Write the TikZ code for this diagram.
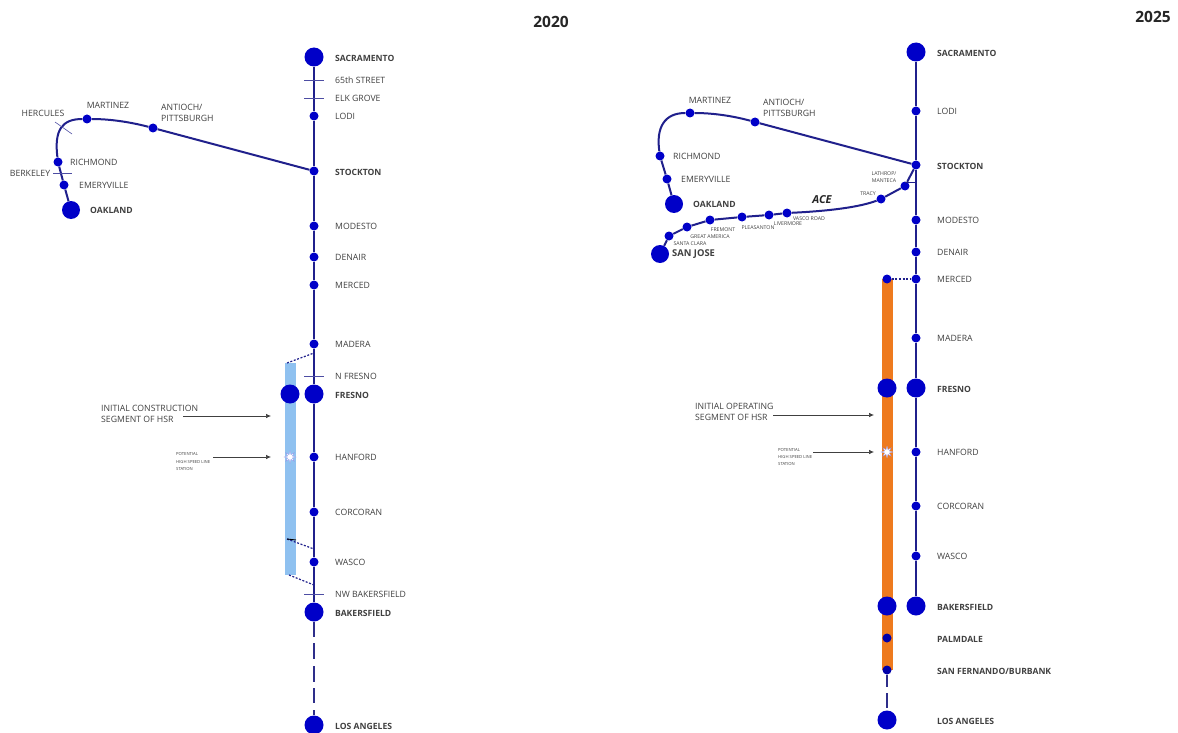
\documentclass[tikz,border=0pt]{standalone}
\usepackage{fontspec}
\setmainfont{Open Sans}
\usetikzlibrary{arrows.meta,shapes.geometric,backgrounds}
\definecolor{st}{HTML}{0000C8}
\definecolor{ln}{HTML}{20208C}
\definecolor{tx}{HTML}{404040}
\definecolor{hsrblue}{HTML}{8FC1F0}
\definecolor{hsror}{HTML}{EE7A1E}
\tikzset{
 bigst/.style={circle,fill=st,inner sep=0pt,minimum size=19pt},
 smallst/.style={circle,fill=st,inner sep=0pt,minimum size=9pt},
 lab/.style={anchor=west,inner sep=0pt,text=tx,font=\fontsize{8.7}{10.5}\selectfont,align=left},
 blab/.style={lab,font=\fontsize{8.6}{10}\selectfont\bfseries,yshift=-1pt},
 slab/.style={lab,anchor=center,font=\fontsize{5.2}{7.5}\selectfont},
 note/.style={lab,font=\fontsize{4.2}{7.2}\selectfont},
 rail/.style={draw=ln,line width=2pt},
 dashline/.style={draw=ln!85!gray,line width=2pt},
 tickline/.style={draw=ln!80!white,line width=.6pt},
 dots/.style={draw=ln,line width=1.2pt,dash pattern=on 2pt off 1.6pt},
 ptr/.style={draw=tx,line width=.7pt,-{Latex[length=5pt,width=4.5pt]}},
 yr/.style={inner sep=0pt,font=\fontsize{15.5}{17}\selectfont\bfseries,text=black!85},
 hsrstar/.style={star,star points=8,star point ratio=2.4,fill=white,draw=st!45!white,line width=.25pt,inner sep=0pt,minimum size=12pt}
}
\begin{document}
\begin{tikzpicture}[x=1pt,y=-1pt]
\useasboundingbox (0,0) rectangle (1178,733);
\fill[white] (0,0) rectangle (1178,733);
% ---------- 2020 ----------
\node[yr] (y20) at (551,21.5) {2020};
\fill[hsrblue] (285,363) rectangle (296,575);
\coordinate (bandA) at (287,363);
\coordinate (bandB) at (287,539);
\coordinate (bandBe) at (296,540);
\coordinate (bandC) at (289,575);
\coordinate (mA) at (314,353);
\coordinate (mB) at (314,549);
\coordinate (mC) at (314,585);
\foreach \n/\y in {lod/116,sto/171,mod/226,den/257,mer/285,mad/344,han/457,cor/512,was/562}
  \node[smallst] (\n) at (314,\y) {};
\node[bigst] (sac) at (314,57) {};
\node[bigst] (fre) at (314,394) {};
\node[bigst] (bak) at (314,612) {};
\node[bigst] (la) at (314,725) {};
\node[bigst] (hfre) at (290,394) {};
\node[hsrstar] (hst) at (290,457) {};
\node[bigst,minimum size=18pt] (oak) at (71,210) {};
\node[smallst] (eme) at (64,185) {};
\node[smallst] (ric) at (58,162) {};
\node[smallst] (mar) at (87,119) {};
\node[smallst] (ant) at (153,128) {};
\draw[rail] (sac) -- (lod) -- (sto) -- (mod) -- (den) -- (mer) -- (mad) -- (fre) -- (han) -- (cor) -- (was) -- (bak);
\draw[rail] (oak) -- (eme) -- (ric) .. controls (54,130) and (62,119) .. (mar) .. controls (110,119) and (130,122) .. (ant) -- (sto);
\coordinate (d1) at (314,637); \coordinate (d2) at (314,643); \coordinate (d3) at (314,659);
\coordinate (d4) at (314,666); \coordinate (d5) at (314,682); \coordinate (d6) at (314,688);
\coordinate (d7) at (314,703); \coordinate (d8) at (314,710);
\draw[dashline] (bak) -- (d1); \draw[dashline] (d2) -- (d3); \draw[dashline] (d4) -- (d5);
\draw[dashline] (d6) -- (d7); \draw[dashline] (d8) -- (la);
\draw[dots] (bandA) -- (mA);
\draw[dots] (bandB) -- (mB);
\draw[dots] (bandC) -- (mC);
\draw[draw=black,line width=.9pt] (bandB) -- (bandBe);
\foreach \a/\y in {t65/80,tel/98,tnf/376,tnw/594}{
  \coordinate (\a L) at (304,\y); \coordinate (\a R) at (324,\y);
  \draw[tickline] (\a L) -- (\a R);
}
\coordinate (hL) at (55,122); \coordinate (hR) at (72,134); \draw[tickline] (hL) -- (hR);
\coordinate (bL) at (53,173); \coordinate (bR) at (72,173); \draw[tickline] (bL) -- (bR);
\foreach \n/\y/\t in {a/80/65th STREET,b/98/ELK GROVE,c/116/LODI,e/226/MODESTO,f/257/DENAIR,g/285/MERCED,h/344/MADERA,i/376/N FRESNO,k/457/HANFORD,l/512/CORCORAN,m/562/WASCO,n/594/NW BAKERSFIELD}
  \node[lab] (l\n) at (335,\y) {\t};
\foreach \n/\y/\t in {a/57/SACRAMENTO,b/171/STOCKTON,c/394/FRESNO,d/612/BAKERSFIELD,e/725/LOS ANGELES}
  \node[blab] (bl\n) at (335,\y) {\t};
\node[lab,anchor=center] (lmar) at (108,105) {MARTINEZ};
\node[lab] (lant) at (161,113) {ANTIOCH/\\PITTSBURGH};
\node[lab,anchor=center] (lher) at (43,113) {HERCULES};
\node[lab] (lric) at (70,162) {RICHMOND};
\node[lab,anchor=center] (lber) at (30,173) {BERKELEY};
\node[lab] (leme) at (79,185) {EMERYVILLE};
\node[blab] (loak) at (90,209) {OAKLAND};
\node[lab] (ln1) at (101,414) {INITIAL CONSTRUCTION\\SEGMENT OF HSR};
\node[note] (ln2) at (176,461.5) {POTENTIAL\\HIGH SPEED LINE\\STATION};
\coordinate (p1a) at (183,416); \coordinate (p1b) at (271,416);
\coordinate (p2a) at (213,457); \coordinate (p2b) at (271,457);
\draw[ptr] (p1a) -- (p1b);
\draw[ptr] (p2a) -- (p2b);
% ---------- 2025 ----------
\node[yr] (y25) at (1153,17) {2025};
\fill[hsror] (882,279) rectangle (893,670);
\foreach \n/\y in {Rlod/111,Rsto/165,Rmod/220,Rden/252,Rmer/279,Rmad/338,Rhan/452,Rcor/506,Rwas/556}
  \node[smallst] (\n) at (916,\y) {};
\node[bigst] (Rsac) at (916,52) {};
\node[bigst] (Rfre) at (916,388) {};
\node[bigst] (Rbak) at (916,606) {};
\node[smallst] (Hmer) at (887,279) {};
\node[bigst] (Hfre) at (887,388) {};
\node[hsrstar] (Hst) at (887,452) {};
\node[bigst] (Hbak) at (887,606) {};
\node[smallst,fill=st!85!black] (Hpal) at (887,638) {};
\node[smallst,fill=st!85!black] (Hsan) at (887,670) {};
\node[bigst] (Hla) at (887,720) {};
\node[bigst,minimum size=18pt] (Roak) at (674,204) {};
\node[smallst] (Reme) at (667,179) {};
\node[smallst] (Rric) at (660,156) {};
\node[smallst] (Rmar) at (690,113) {};
\node[smallst] (Rant) at (755,122) {};
\node[bigst,minimum size=18pt] (Rsj) at (660,254) {};
\node[smallst] (Rsc) at (669,236) {};
\node[smallst] (Rga) at (687,227) {};
\node[smallst] (Rfr) at (710,220) {};
\node[smallst] (Rpl) at (742,217) {};
\node[smallst] (Rli) at (769,215) {};
\node[smallst] (Rva) at (787,213) {};
\node[smallst] (Rtr) at (881,199) {};
\node[smallst] (Rla) at (905,186) {};
\draw[rail] (Rsac) -- (Rlod) -- (Rsto) -- (Rmod) -- (Rden) -- (Rmer) -- (Rmad) -- (Rfre) -- (Rhan) -- (Rcor) -- (Rwas) -- (Rbak);
\draw[rail] (Roak) -- (Reme) -- (Rric) .. controls (656,128) and (664,113) .. (Rmar) .. controls (713,113) and (733,116) .. (Rant) -- (Rsto);
\draw[rail] (Rsj) -- (Rsc) -- (Rga) -- (Rfr) -- (Rpl) -- (Rli) -- (Rva) .. controls (830,211) and (860,207) .. (Rtr) -- (Rla) -- (Rsto);
\coordinate (tkL) at (905,182); \coordinate (tkR) at (916,182);
\draw[draw=ln,line width=.8pt] (tkL) -- (tkR);
\draw[dots] (Hmer) -- (Rmer);
\coordinate (Rd1) at (887,687); \coordinate (Rd2) at (887,693); \coordinate (Rd3) at (887,708);
\draw[dashline] (Hsan) -- (Rd1);
\draw[dashline] (Rd2) -- (Rd3);
\foreach \n/\y/\t in {a/111/LODI,b/220/MODESTO,c/252/DENAIR,d/279/MERCED,e/338/MADERA,f/452/HANFORD,g/506/CORCORAN,h/556/WASCO}
  \node[lab] (R\n) at (937,\y) {\t};
\foreach \n/\y/\t in {a/52/SACRAMENTO,b/165/STOCKTON,c/388/FRESNO,d/606/BAKERSFIELD,e/638/PALMDALE,f/670/{SAN FERNANDO/BURBANK},g/720/LOS ANGELES}
  \node[blab] (Rb\n) at (937,\y) {\t};
\node[lab,anchor=center] (Rlmar) at (710,100) {MARTINEZ};
\node[lab] (Rlant) at (763,108) {ANTIOCH/\\PITTSBURGH};
\node[lab] (Rlric) at (673,156) {RICHMOND};
\node[lab] (Rleme) at (681,179) {EMERYVILLE};
\node[blab] (Rloak) at (693,203) {OAKLAND};
\node[blab,font=\fontsize{9.4}{11}\selectfont\bfseries] (Rlsj) at (672,253) {SAN JOSE};
\node[anchor=center,inner sep=0pt,text=black!85,font=\fontsize{11}{12}\selectfont\bfseries\itshape] (Race) at (822,200) {ACE};
\node[slab] (Lsc) at (690,244) {SANTA CLARA};
\node[slab] (Lga) at (710,237) {GREAT AMERICA};
\node[slab] (Lfr) at (723,230) {FREMONT};
\node[slab] (Lpl) at (758,228) {PLEASANTON};
\node[slab] (Lli) at (788,224) {LIVERMORE};
\node[slab] (Lva) at (809,219) {VASCO ROAD};
\node[slab] (Ltr) at (868,194) {TRACY};
\node[slab,align=center] (Lla) at (884,177) {LATHROP/\\MANTECA};
\node[lab] (Rn1) at (695,412) {INITIAL OPERATING\\SEGMENT OF HSR};
\node[note] (Rn2) at (778,457) {POTENTIAL\\HIGH SPEED LINE\\STATION};
\coordinate (q1a) at (773,415); \coordinate (q1b) at (874,415);
\coordinate (q2a) at (813,452); \coordinate (q2b) at (874,452);
\draw[ptr] (q1a) -- (q1b);
\draw[ptr] (q2a) -- (q2b);
\end{tikzpicture}
\end{document}
